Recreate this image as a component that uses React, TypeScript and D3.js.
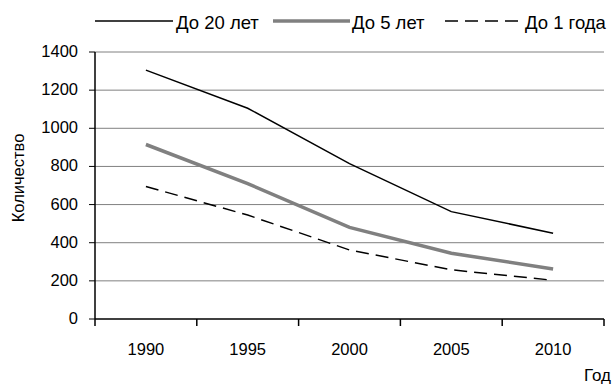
import React from "react";
import * as d3 from "d3";

const years = ["1990", "1995", "2000", "2005", "2010"];
const upTo20 = [1305, 1105, 815, 563, 450];
const upTo5 = [915, 710, 480, 345, 262];
const upTo1 = [695, 545, 362, 258, 203];
const yTicks = [0, 200, 400, 600, 800, 1000, 1200, 1400];

const W = 613, H = 387;
const left = 95, right = 604, top = 52, bottom = 319;
const font = "'Liberation Sans', Arial, sans-serif";

export default function App() {
  const x = d3.scaleBand<string>().domain(years).range([left, right]);
  const y = d3.scaleLinear().domain([0, 1400]).range([bottom, top]);
  const line = d3.line<number>().x((_, i) => (x(years[i]) as number) + x.bandwidth() / 2).y((d) => y(d));
  const series = [
    { name: "До 20 лет", data: upTo20, stroke: "#000", width: 1.5, dash: undefined, lx: [95, 173], tx: 176 },
    { name: "До 5 лет", data: upTo5, stroke: "#808080", width: 3.5, dash: undefined, lx: [273, 350], tx: 352 },
    { name: "До 1 года", data: upTo1, stroke: "#000", width: 1.5, dash: "13,7", lx: [445, 523], tx: 525 },
  ];
  const boundaries = [...years.map((c) => x(c) as number), right];
  return (
    <svg width={W} height={H} style={{ position: "absolute", left: 0, top: 0 }} fontFamily={font}>
      <rect width={W} height={H} fill="#fff" />
      {yTicks.map((t) => (
        <g key={t}>
          {t > 0 && <line x1={left} x2={right} y1={y(t)} y2={y(t)} stroke="#808080" strokeWidth={1} />}
          <line x1={left - 6} x2={left} y1={y(t)} y2={y(t)} stroke="#000" strokeWidth={1} />
          <text x={78} y={y(t) + 5} textAnchor="end" fontSize={16.5}>{t}</text>
        </g>
      ))}
      <line x1={left} x2={left} y1={top} y2={bottom} stroke="#000" strokeWidth={1.5} />
      <line x1={left} x2={right} y1={bottom} y2={bottom} stroke="#000" strokeWidth={1.5} />
      {boundaries.map((b, i) => (
        <line key={i} x1={b} x2={b} y1={bottom} y2={bottom + 7} stroke="#000" strokeWidth={1.5} />
      ))}
      {years.map((c) => (
        <text key={c} x={(x(c) as number) + x.bandwidth() / 2} y={355} textAnchor="middle" fontSize={16.5}>{c}</text>
      ))}
      {series.map((s) => (
        <path key={s.name} d={line(s.data) || ""} fill="none" stroke={s.stroke} strokeWidth={s.width} strokeDasharray={s.dash} />
      ))}
      {series.map((s) => (
        <g key={"l" + s.name}>
          <line x1={s.lx[0]} x2={s.lx[1]} y1={21} y2={21} stroke={s.stroke} strokeWidth={s.width} strokeDasharray={s.dash} />
          <text x={s.tx} y={29} fontSize={18.5}>{s.name}</text>
        </g>
      ))}
      <text transform={`translate(18.5,178) rotate(-90)`} textAnchor="middle" dy="0.35em" fontSize={16.5}>Количество</text>
      <text x={611} y={381} textAnchor="end" fontSize={17}>Год</text>
    </svg>
  );
}
